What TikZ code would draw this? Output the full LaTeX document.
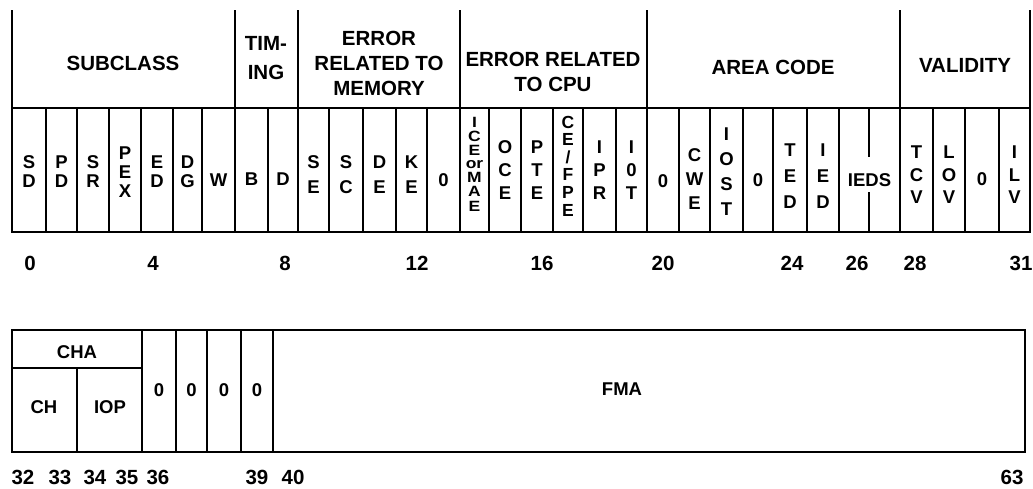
\documentclass[tikz,border=0pt]{standalone}
\usepackage{fontspec}
\setmainfont{Liberation Sans}
\begin{document}
\begin{tikzpicture}[x=1pt,y=-1pt,
  reg/.style={line width=2.6pt, line cap=rect, line join=miter},
  grp/.style={inner sep=0pt, align=center, font=\fontsize{20.5}{25}\selectfont\bfseries},
  bitlbl/.style={inner sep=0pt, align=center, font=\fontsize{18.5}{#1}\selectfont\bfseries},
  bitlbl/.default=19,
  num/.style={inner sep=0pt, font=\fontsize{20.5}{20}\selectfont\bfseries},
]
\useasboundingbox (0,0) rectangle (1033,489);
% ---------- upper register: bits 0-31 ----------
\draw[reg] (12,108) -- (1030,108);
\draw[reg] (12,232) -- (1030,232);
\foreach \x in {12,235,298,460,647,900,1030}
  \draw[reg] (\x,11) -- (\x,232);
\foreach \x in {46,77,109,141,173,202,268,329,363,396,427,489,521,553,583,616,679,710,743,773,807,839,933,965,999}
  \draw[reg] (\x,108) -- (\x,232);
\draw[reg] (869,108) -- (869,156);
\draw[reg] (869,193) -- (869,232);
% group labels
\node[grp] (subclass) at (123,63) {SUBCLASS};
\node[grp, font=\fontsize{20.5}{29}\selectfont\bfseries] (timing) at (266,58) {TIM-\\ING};
\node[grp] (errmem) at (379,63) {ERROR\\RELATED TO\\MEMORY};
\node[grp] (errcpu) at (553,72) {ERROR RELATED\\TO CPU};
\node[grp] (area) at (773,67) {AREA CODE};
\node[grp] (valid) at (965,65) {VALIDITY};
% bit labels
\node[bitlbl] (sd) at (29,172) {S\\D};
\node[bitlbl] (pd) at (61.5,172) {P\\D};
\node[bitlbl] (sr) at (93,172) {S\\R};
\node[bitlbl] (pex) at (125,172) {P\\E\\X};
\node[bitlbl] (ed) at (157,172) {E\\D};
\node[bitlbl] (dg) at (187.5,172) {D\\G};
\node[bitlbl] (w) at (218.5,180) {W};
\node[bitlbl] (b) at (251.5,179) {B};
\node[bitlbl] (d) at (283,179) {D};
\node[bitlbl=25] (se) at (313.5,175) {S\\E};
\node[bitlbl=25] (sc) at (346,175) {S\\C};
\node[bitlbl=25] (de) at (379.5,175) {D\\E};
\node[bitlbl=25] (ke) at (411.5,175) {K\\E};
\node[bitlbl] (z13) at (443.5,180) {0};
\node[inner sep=0pt] (icemae) at (474.5,166) {\scalebox{1}[0.85]{\fontsize{17.5}{15.3}\selectfont\bfseries\begin{tabular}{@{}c@{}}I\\C\\E\\or\\M\\A\\E\end{tabular}}};
\node[bitlbl=23] (oce) at (505,170) {O\\C\\E};
\node[bitlbl=23] (pte) at (537,170) {P\\T\\E};
\node[inner sep=0pt, align=center, font=\fontsize{17.5}{17.6}\selectfont\bfseries] (cefpe) at (568,166) {C\\E\\/\\F\\P\\E};
\node[bitlbl=23] (ipr) at (599.5,170) {I\\P\\R};
\node[bitlbl=23] (iot) at (631.5,170) {I\\0\\T};
\node[bitlbl] (z20) at (663,181) {0};
\node[bitlbl=24] (cwe) at (694.5,179) {C\\W\\E};
\node[bitlbl=25] (iost) at (726.5,172) {I\\O\\S\\T};
\node[bitlbl] (z23) at (758,180) {0};
\node[bitlbl=26] (ted) at (790,176) {T\\E\\D};
\node[bitlbl=26] (ied) at (823,176) {I\\E\\D};
\node[bitlbl] (ieds) at (869.5,180) {IEDS};
\node[bitlbl=22.5] (tcv) at (916.5,175) {T\\C\\V};
\node[bitlbl=22.5] (lov) at (949,175) {L\\O\\V};
\node[bitlbl] (z30) at (982,179) {0};
\node[bitlbl=22.5] (ilv) at (1014.5,175) {I\\L\\V};
% bit numbers
\foreach \x/\t [count=\i] in {30/0,153/4,285/8,417/12,542/16,663/20,792/24,857/26,915/28,1021/31}
  \node[num] (n\i) at (\x,263) {\t};
% ---------- lower register: bits 32-63 ----------
\draw[reg] (12,330) rectangle (1025,452);
\draw[reg] (12,368) -- (142,368);
\draw[reg] (77,368) -- (77,452);
\foreach \x in {142,176,207,241,273}
  \draw[reg] (\x,330) -- (\x,452);
\node[bitlbl] (cha) at (77,352) {CHA};
\node[bitlbl] (ch) at (44,407) {CH};
\node[bitlbl] (iop) at (110,407) {IOP};
\foreach \x [count=\i] in {159,191.5,224,257}
  \node[bitlbl] (zz\i) at (\x,390) {0};
\node[bitlbl] (fma) at (622,389) {FMA};
\foreach \x/\t [count=\i] in {23/32,60/33,95/34,127/35,158/36,257/39,293/40,1012/63}
  \node[num] (m\i) at (\x,477) {\t};
\end{tikzpicture}
\end{document}
